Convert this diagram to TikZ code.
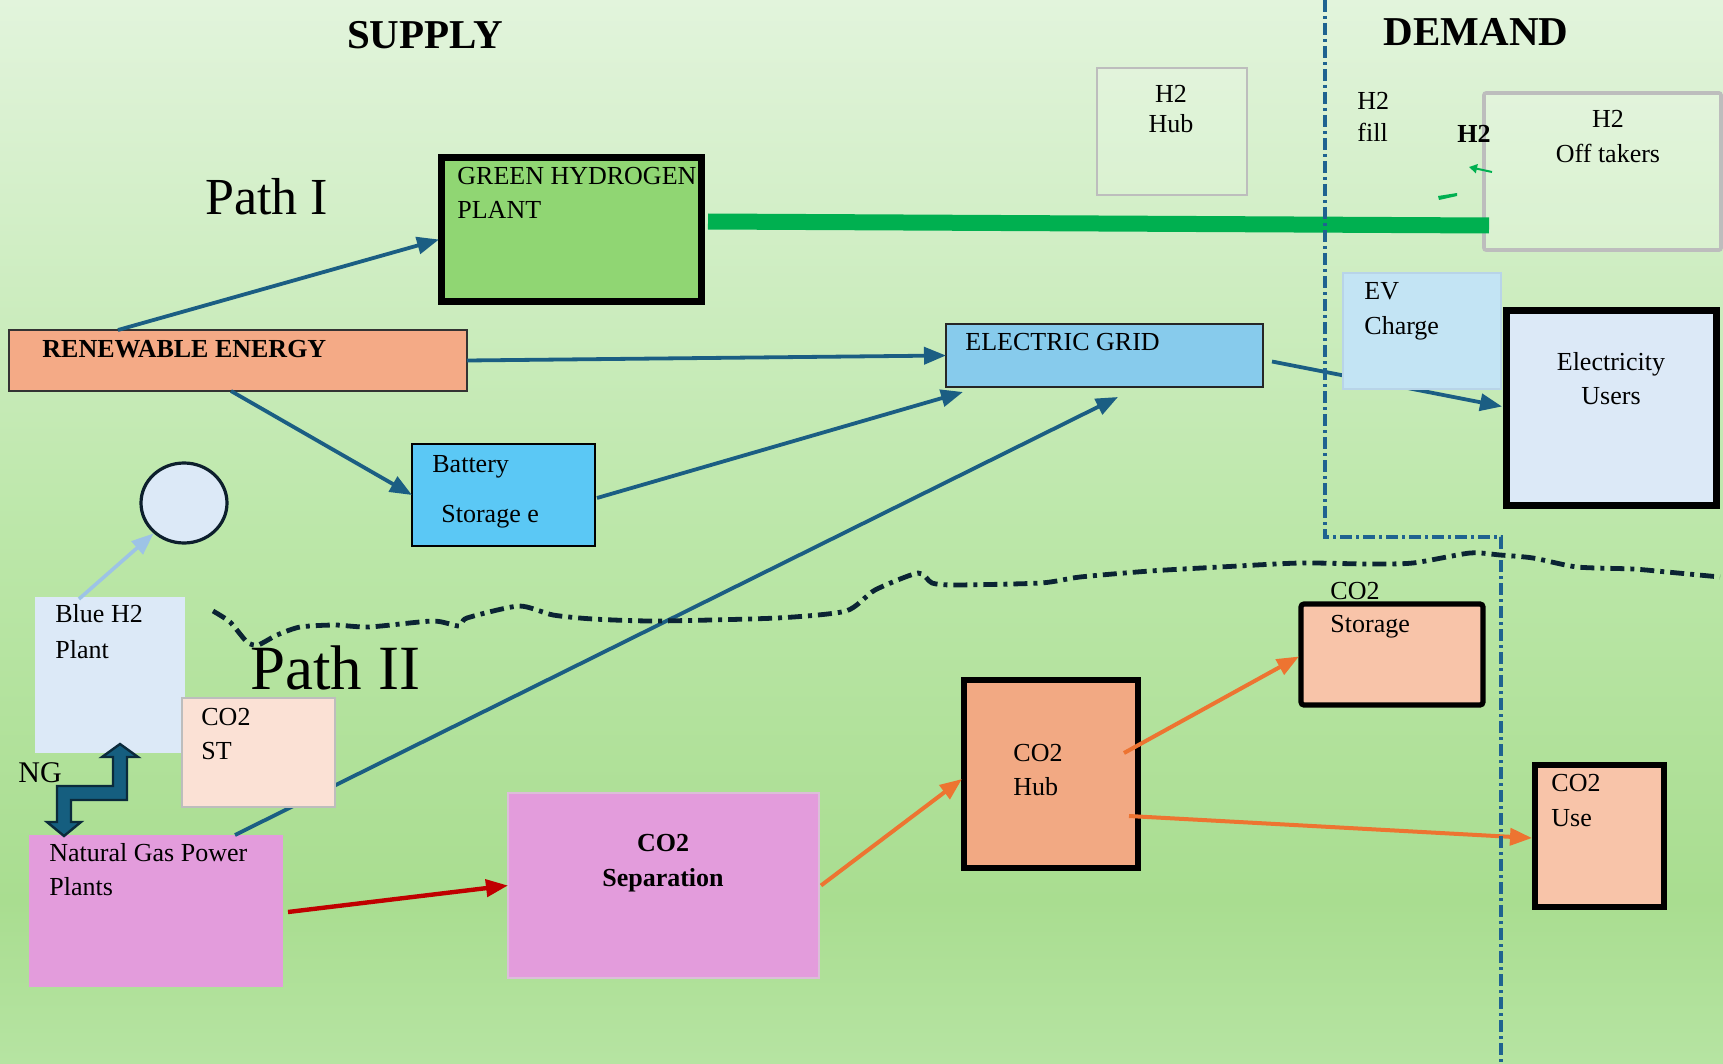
\documentclass[tikz,border=0pt]{standalone}
\usepackage{fontspec}
\setmainfont{Liberation Serif}
\usetikzlibrary{arrows.meta,fit,calc,shapes.geometric}
\definecolor{bgA}{HTML}{E2F4DC}
\definecolor{bgB}{HTML}{BCE7A9}
\definecolor{bgC}{HTML}{A9DD90}
\definecolor{bgD}{HTML}{B6E4A2}
\definecolor{ghgreen}{HTML}{90D673}
\definecolor{h2line}{HTML}{00B050}
\definecolor{renfill}{HTML}{F4AA86}
\definecolor{gridfill}{HTML}{87CBEC}
\definecolor{batfill}{HTML}{5BC8F5}
\definecolor{paleblue}{HTML}{DCE9F7}
\definecolor{circline}{HTML}{0D1F2D}
\definecolor{stfill}{HTML}{FBE1D5}
\definecolor{ngfill}{HTML}{E39CDC}
\definecolor{hubfill}{HTML}{F2A983}
\definecolor{peach}{HTML}{F8C4A9}
\definecolor{evfill}{HTML}{C3E4F4}
\definecolor{evline}{HTML}{B8D4E8}
\definecolor{grayline}{HTML}{BDBDBD}
\definecolor{arrblue}{HTML}{1B5E83}
\definecolor{arrorange}{HTML}{ED7431}
\definecolor{arrred}{HTML}{C00000}
\definecolor{arrlight}{HTML}{9DC3E6}
\definecolor{divblue}{HTML}{1F6390}
\definecolor{wavecol}{HTML}{0B2434}
\definecolor{ngarrow}{HTML}{155E7F}
\definecolor{ngedge}{HTML}{0B2A3B}
\begin{document}
\begin{tikzpicture}[x=0.5pt,y=-0.5pt,
  box/.style={inner sep=0pt, outer sep=0pt},
  txt/.style={inner sep=0pt, anchor=north west, align=left, font=\fontsize{13}{17.5}\selectfont},
  ctxt/.style={inner sep=0pt, anchor=north, align=center, font=\fontsize{13}{17.5}\selectfont},
  tipA/.style={-{Triangle[length=11pt,width=8.5pt]}},
  blarrow/.style={tipA, draw=arrblue, line width=1.9pt},
  orarrow/.style={tipA, draw=arrorange, line width=2pt},
  redarrow/.style={tipA, draw=arrred, line width=2.2pt},
  lbarrow/.style={tipA, draw=arrlight, line width=1.8pt},
  divline/.style={draw=divblue, line width=1.6pt, dash pattern=on 6pt off 2pt on 1.5pt off 2pt},
  wavy/.style={draw=wavecol, line width=2.4pt, dash pattern=on 7pt off 3pt on 2pt off 3pt}
]
\useasboundingbox (0,0) rectangle (1723,1064);
% background
\fill[top color=bgA, bottom color=bgB] (0,0) rectangle (1723,531);
\fill[top color=bgB, bottom color=bgC] (0,530) rectangle (1723,901);
\fill[top color=bgC, bottom color=bgD] (0,900) rectangle (1723,1064);

% boxes
\node[box, fit={(441,158) (701,301)}, draw=black, line width=3.5pt, fill=ghgreen] (gh) {};
\node[box, fit={(9,330) (467,391)}, draw=black!80, line width=0.8pt, fill=renfill] (ren) {};
\node[box, fit={(946,324) (1263,387)}, draw=black!85, line width=0.8pt, fill=gridfill] (grid) {};
\node[box, fit={(412,444) (595,546)}, draw=black, line width=0.8pt, fill=batfill] (bat) {};
\node[ellipse, draw=circline, line width=1.6pt, fill=paleblue, minimum width=43pt, minimum height=40pt, inner sep=0pt] (circ) at (184,503) {};
\node[box, fit={(35,597) (185,753)}, fill=paleblue] (blue) {};
\node[box, fit={(29,835) (283,987)}, fill=ngfill] (ngp) {};
\node[box, fit={(508,793) (819,978)}, fill=ngfill, draw=ngfill!70!gray!60, line width=0.6pt] (sep) {};
\node[box, fit={(964,680) (1138,868)}, draw=black, line width=3.3pt, fill=hubfill] (hub) {};
\node[box, fit={(1301,604) (1483,705)}, draw=black, line width=2.6pt, fill=peach, rounded corners=1.5pt] (sto) {};
\node[box, fit={(1535,765) (1664,907)}, draw=black, line width=2.6pt, fill=peach] (use) {};
\node[box, fit={(1506,310) (1716,505)}, draw=black, line width=3.5pt, fill=paleblue] (eu) {};
\node[box, fit={(1097,68) (1247,195)}, draw=grayline, line width=1pt, fill=white, fill opacity=0.15, draw opacity=1] (h2hub) {};
\node[box, fit={(1484,93) (1721,250)}, draw=grayline, line width=1.8pt, fill=white, fill opacity=0.2, draw opacity=1, rounded corners=1pt] (off) {};

% connectors that pass behind boxes
\draw[blarrow] ($(ngp.north west)+(206,0)$) -- ($(grid.south west)+(172,10)$);
\draw[blarrow] ($(grid.east)+(9,6)$) -- ($(eu.west)+(-4,-1)$);
\node[box, fit={(182,698) (335,807)}, draw=grayline, line width=1pt, fill=stfill] (co2st) {};
\node[box, fit={(1343,273) (1501,389)}, draw=evline, line width=0.6pt, fill=evfill] (ev) {};

% other connectors
\draw[blarrow] ($(ren.north west)+(109,0)$) -- ($(gh.west)+(-2,10)$);
\draw[blarrow] (ren.east) -- (grid.west);
\draw[blarrow] ($(ren.south west)+(222,0)$) -- (bat.west);
\draw[blarrow] ($(bat.east)+(2,3)$) -- ($(grid.south west)+(17,5)$);
\draw[lbarrow] ($(blue.north west)+(44,2)$) -- (circ.225);
\draw[redarrow] ($(ngp.east)+(5,1)$) -- (sep.west);
\draw[orarrow] ($(sep.east)+(2,0)$) -- ($(hub.west)+(-2,5)$);
\draw[orarrow] ($(hub.east)+(-14,-21)$) -- ($(sto.west)+(-2,2)$);
\draw[orarrow] ($(hub.east)+(-9,42)$) -- ($(use.west)+(-3,2)$);

% H2 pipeline
\draw[h2line, line width=8pt] ($(gh.east)+(7,-8)$) -- ($(off.west)+(5,54)$);
\draw[h2line, line width=1pt, -{Triangle[length=4pt,width=4.5pt]}] (1492,172) -- (1469,167);
\fill[h2line] (1438,196) -- (1457,193) -- (1457,196) -- (1439,200) -- cycle;

% NG block arrow
\draw[fill=ngarrow, draw=ngedge, line width=1.2pt, line join=miter]
  (57,786) -- (113,786) -- (113,757) -- (102,757) -- (120,744) -- (138,757) -- (127,757)
  -- (127,800) -- (71,800) -- (71,822) -- (81,822) -- (64,836) -- (47,822) -- (57,822) -- cycle;

% supply / demand divider
\draw[divline] (1325,0) -- (1325,537) -- (1501,537) -- (1501,1064);
% path divider
\draw[wavy] plot[smooth, tension=0.4] coordinates {(213,611) (230,622) (247,642) (258,645) (277,635) (300,627) (335,625) (369,627) (433,621) (459,626) (467,618) (519,606) (553,615) (593,619) (656,621) (777,618) (846,611) (875,590) (918,573) (932,583) (955,585) (1041,583) (1080,577) (1150,571) (1220,567) (1300,563) (1367,564) (1413,563) (1470,553) (1500,555) (1533,558) (1577,567) (1633,569) (1667,572) (1720,577)};

% texts
\node[inner sep=0pt, anchor=north, font=\fontsize{20.5}{24}\selectfont\bfseries] (tsup) at (425,21) {SUPPLY};
\node[inner sep=0pt, anchor=north, font=\fontsize{20.5}{24}\selectfont\bfseries] (tdem) at (1476,18) {DEMAND};
\node[inner sep=0pt, anchor=north west, font=\fontsize{26}{30}\selectfont] (tp1) at (205,178) {Path I};
\node[inner sep=0pt, anchor=north west, font=\fontsize{31.5}{36}\selectfont] (tp2) at (250,645) {Path II};
\node[txt, font=\fontsize{13}{17}\selectfont] (tgh) at (457,167) {GREEN HYDROGEN\\PLANT};
\node[txt, font=\fontsize{13}{17}\selectfont\bfseries] (tren) at (42,340) {RENEWABLE ENERGY};
\node[txt] (tgrid) at (965,333) {ELECTRIC GRID};
\node[txt] (tbat1) at (432,455) {Battery};
\node[txt] (tbat2) at (441,505) {Storage e};
\node[txt, font=\fontsize{13}{18}\selectfont] (tblue) at (55,604) {Blue H2\\Plant};
\node[txt, font=\fontsize{13}{17}\selectfont] (tst) at (201,708) {CO2\\ST};
\node[txt, font=\fontsize{15}{18}\selectfont] (tng) at (18,762) {NG};
\node[txt, font=\fontsize{13}{17}\selectfont] (tngp) at (49,843) {Natural Gas Power\\Plants};
\node[ctxt, font=\fontsize{13}{17.5}\selectfont\bfseries] (tsep) at (663,834) {CO2\\Separation};
\node[txt, font=\fontsize{13}{17}\selectfont] (thub) at (1013,744) {CO2\\Hub};
\node[txt] (tsto1) at (1330,582) {CO2};
\node[txt] (tsto2) at (1330,615) {Storage};
\node[txt] (tuse) at (1551,774) {CO2\\Use};
\node[ctxt, font=\fontsize{13}{17}\selectfont] (teu) at (1611,352) {Electricity\\Users};
\node[txt] (tev) at (1364,282) {EV\\Charge};
\node[ctxt, font=\fontsize{13}{15}\selectfont] (th2hub) at (1171,85) {H2\\Hub};
\node[txt, font=\fontsize{13}{16}\selectfont] (tfill) at (1357,92) {H2\\fill};
\node[txt, font=\fontsize{13}{17}\selectfont\bfseries] (th2b) at (1457,125) {H2};
\node[ctxt] (toff) at (1608,110) {H2\\Off takers};
\end{tikzpicture}
\end{document}
